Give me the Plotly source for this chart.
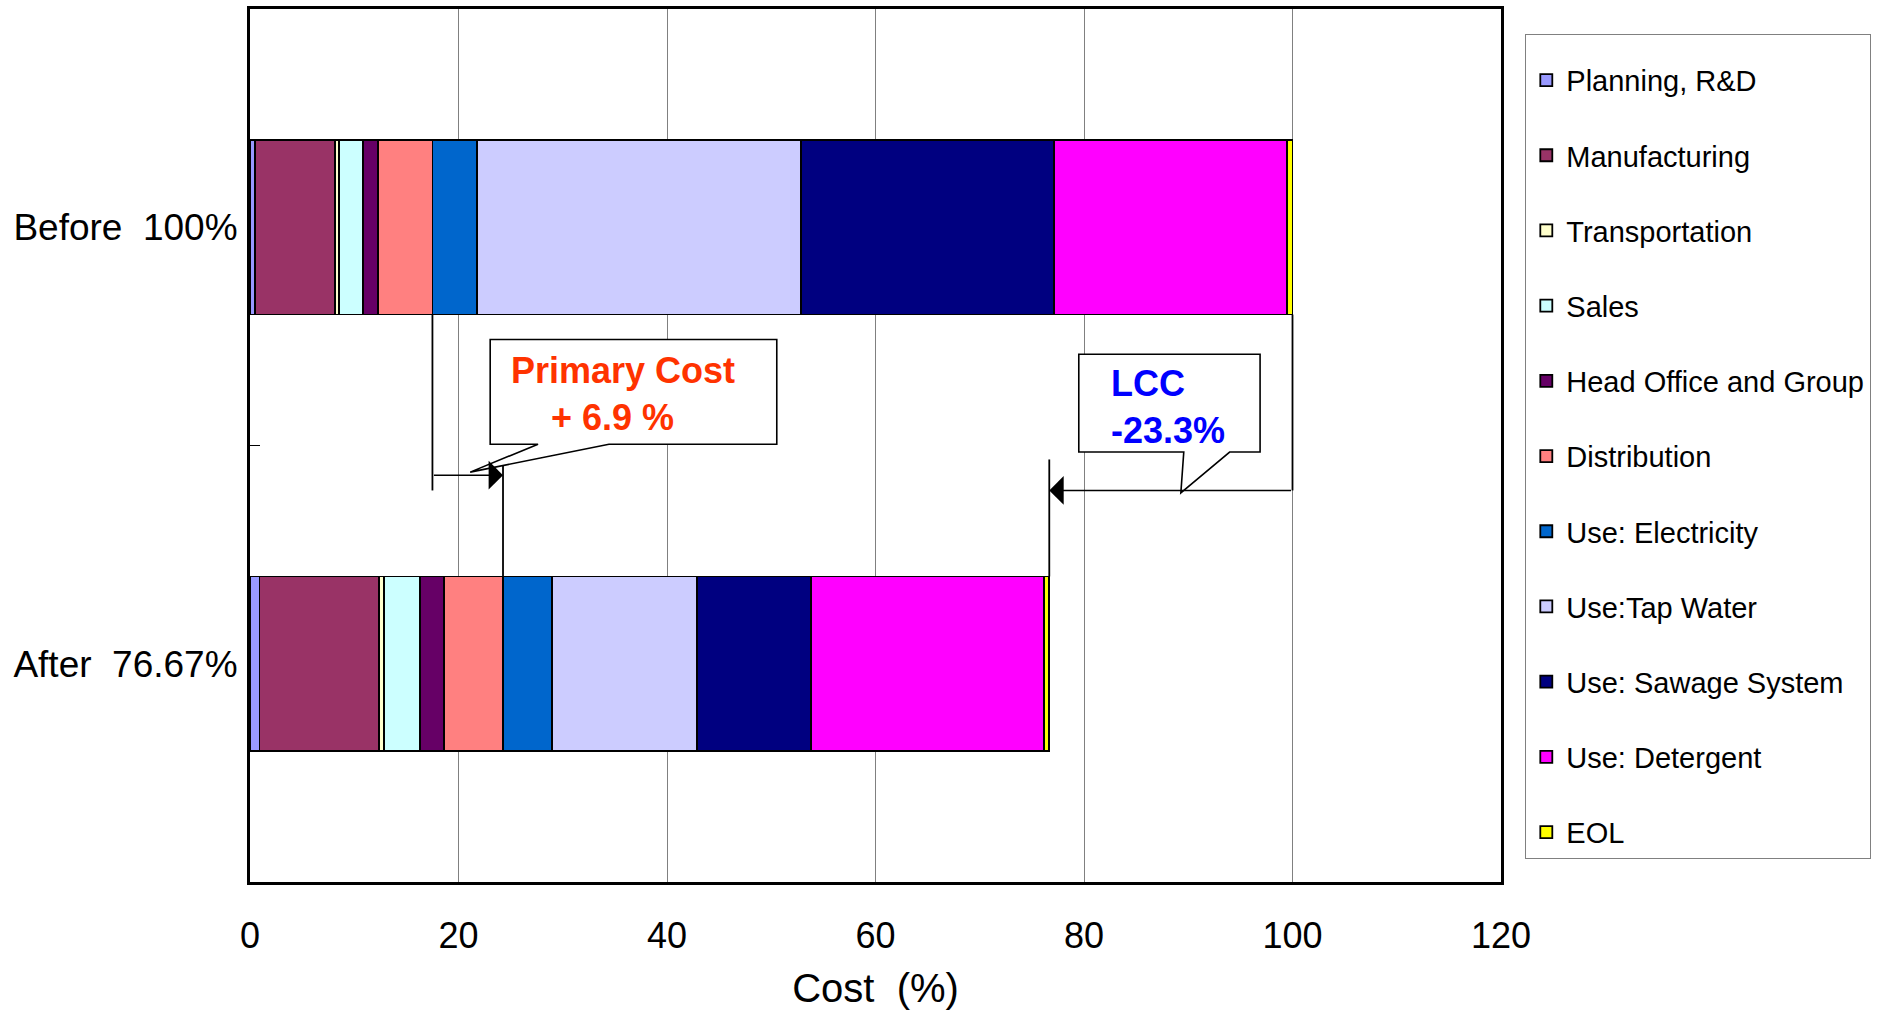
import plotly.graph_objects as go

# ---------------- data ----------------
categories = ["Before\u00a0\u00a0100%", "After\u00a0\u00a076.67%"]
components = ["Planning, R&D", "Manufacturing", "Transportation", "Sales",
              "Head Office and Group", "Distribution", "Use: Electricity",
              "Use:Tap Water", "Use: Sawage System", "Use: Detergent", "EOL"]
before_vals = [0.50, 7.64, 0.36, 2.33, 1.48, 5.19, 4.28, 31.10, 24.28, 22.29, 0.55]
after_vals = [0.92, 11.49, 0.41, 3.52, 2.29, 5.64, 4.69, 13.88, 11.01, 22.29, 0.53]
colors = ["#9999FF", "#993366", "#FFFFCC", "#CCFFFF", "#660066", "#FF8080",
          "#0066CC", "#CCCCFF", "#000080", "#FF00FF", "#FFFF00"]
x_ticks = [0, 20, 40, 60, 80, 100, 120]
n_primary = 6  # first six components make up the primary cost

FONT = "Liberation Sans, Arial, sans-serif"
ML, MR, MT, MB = 250, 391, 6, 131
PW = 1892 - ML - MR
PH = 1013 - MT - MB

fig = go.Figure()
for name, b, a, c in zip(components, before_vals, after_vals, colors):
    fig.add_trace(go.Bar(
        y=categories, x=[b, a], name=name, orientation="h",
        marker=dict(color=c, line=dict(color="black", width=1.8)),
        width=0.4, legendgroup=name, hoverinfo="x+name",
    ))

# totals derived from the data
prim_before = sum(before_vals[:n_primary])
prim_after = sum(after_vals[:n_primary])
tot_before = sum(before_vals)
tot_after = sum(after_vals)

def yp(yd):
    # category-index coordinate -> paper coordinate (range reversed [1.5, -0.5])
    return (1.5 - yd) / 2.0

bar_half = 0.2
shapes = []
LW = 1.8
# connector lines, primary cost
shapes.append(dict(type="line", xref="x", yref="paper", x0=prim_before, x1=prim_before,
                   y0=yp(bar_half), y1=yp(0.603), line=dict(color="black", width=LW), layer="above"))
shapes.append(dict(type="line", xref="x", yref="paper", x0=prim_after, x1=prim_after,
                   y0=yp(0.547), y1=yp(1 - bar_half), line=dict(color="black", width=LW), layer="above"))
# connector lines, LCC
shapes.append(dict(type="line", xref="x", yref="paper", x0=tot_before, x1=tot_before,
                   y0=yp(bar_half), y1=yp(0.603), line=dict(color="black", width=LW), layer="above"))
shapes.append(dict(type="line", xref="x", yref="paper", x0=tot_after, x1=tot_after,
                   y0=yp(0.532), y1=yp(1 - bar_half), line=dict(color="black", width=LW), layer="above"))

def callout(x0, x1, yt, yb, xa, xb, tx, ty):
    pts = [(x0, yt), (x1, yt), (x1, yb), (xb, yb), (tx, ty), (xa, yb), (x0, yb)]
    p = "M " + " L ".join(f"{x},{yp(y)}" for x, y in pts) + " Z"
    return dict(type="path", xref="x", yref="paper", path=p, fillcolor="white",
                line=dict(color="black", width=1.6), layer="above")

shapes.append(callout(23.04, 50.53, 0.257, 0.497, 27.63, 34.43, 21.12, 0.561))
shapes.append(callout(79.5, 96.89, 0.291, 0.515, 89.57, 93.97, 89.29, 0.6086))

annotations = [
    # arrows
    dict(x=prim_after, y=0.568, ax=prim_before, ay=0.568, xref="x", yref="y",
         axref="x", ayref="y", text="", showarrow=True, arrowhead=1,
         arrowwidth=1.6, arrowsize=3.0, arrowcolor="black"),
    dict(x=tot_after, y=0.603, ax=tot_before, ay=0.603, xref="x", yref="y",
         axref="x", ayref="y", text="", showarrow=True, arrowhead=1,
         arrowwidth=1.6, arrowsize=3.0, arrowcolor="black"),
    # labels
    dict(x=24.85, y=yp(0.383), xref="x", yref="paper", xanchor="left", yanchor="middle",
         text="<b>Primary Cost<br>\u00a0\u00a0\u00a0\u00a0+ 6.9 %</b>", showarrow=False, align="left",
         font=dict(family=FONT, size=36, color="#FF3300")),
    dict(x=82.4, y=yp(0.411), xref="x", yref="paper", xanchor="left", yanchor="middle",
         text="<b>LCC<br>-23.3%</b>", showarrow=False, align="left",
         font=dict(family=FONT, size=36, color="#0000FF")),
]

fig.update_layout(
    width=1892, height=1013, autosize=False,
    barmode="stack",
    paper_bgcolor="white", plot_bgcolor="white",
    margin=dict(l=ML, r=MR, t=MT, b=MB),
    font=dict(family=FONT, color="black"),
    showlegend=True,
    legend=dict(
        x=(1525 - ML) / PW, y=1 - (31 - MT) / PH, xanchor="left", yanchor="top",
        xref="paper", yref="paper",
        font=dict(family=FONT, size=29, color="black"),
        bordercolor="#808080", borderwidth=1.3, bgcolor="white",
        traceorder="grouped", tracegroupgap=34.5,
        title=dict(text="\u00a0", font=dict(family=FONT, size=15)),
    ),
    shapes=shapes,
    annotations=annotations,
)

fig.update_xaxes(
    range=[0, 120], tickvals=x_ticks, ticktext=[str(v) for v in x_ticks],
    showgrid=True, gridcolor="#808080", gridwidth=1,
    showline=True, linecolor="black", linewidth=3, mirror=True,
    ticks="", ticklabelstandoff=20,
    tickfont=dict(family=FONT, size=36, color="black"),
    title=dict(text="Cost\u00a0\u00a0(%)", font=dict(family=FONT, size=40, color="black"), standoff=19),
    zeroline=False,
)
fig.update_yaxes(
    type="category", range=[1.5, -0.5],
    showgrid=False,
    showline=True, linecolor="black", linewidth=3, mirror=True,
    ticks="inside", tickson="boundaries", ticklen=10, tickwidth=1.2, tickcolor="black",
    ticklabelstandoff=2,
    tickfont=dict(family=FONT, size=37, color="black"),
)

fig.write_html("out.html")
